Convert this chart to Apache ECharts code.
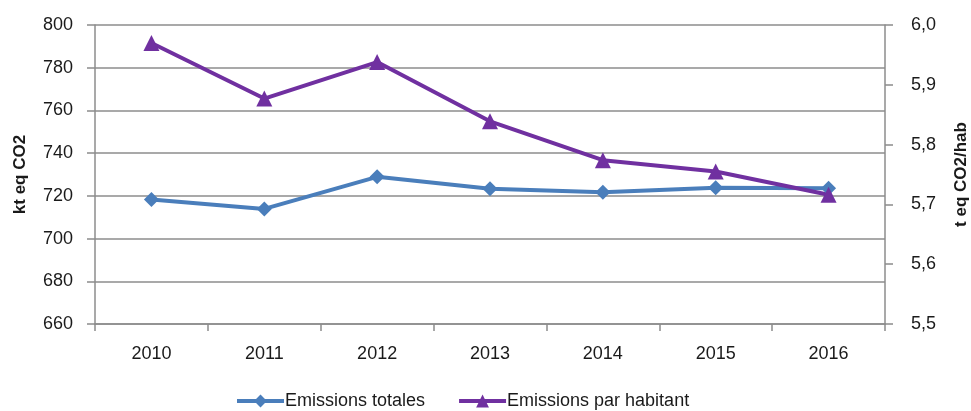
<!DOCTYPE html>
<html><head><meta charset="utf-8">
<script src="https://cdn.jsdelivr.net/npm/echarts@6/dist/echarts.min.js"></script>
<style>html,body{margin:0;padding:0;background:#fff}#c{width:971px;height:411px}</style>
</head><body><div id="c"></div>
<script>
const years = ['2010','2011','2012','2013','2014','2015','2016'];
const totales = [718.3, 713.9, 728.9, 723.3, 721.7, 723.8, 723.6];
const parHabitant = [5.970, 5.877, 5.938, 5.839, 5.774, 5.755, 5.716];
const leftName = 'kt eq CO2';
const rightName = 't eq CO2/hab';
const seriesNames = ['Emissions totales', 'Emissions par habitant'];

const font = 'Liberation Sans';
const txt = '#1a1a1a';
const grey = '#8c8c8c';
const chart = echarts.init(document.getElementById('c'));
chart.setOption({
  animation: false,
  textStyle: {fontFamily: font},
  grid: {left: 95, right: 86, top: 25, bottom: 87, containLabel: false, outerBoundsMode: 'none'},
  legend: {
    bottom: 1, padding: 0, left: 235, itemWidth: 47, itemHeight: 16, itemGap: 32,
    textStyle: {fontSize: 18, color: txt, fontFamily: font, padding: [0, 0, 0, -4]},
    lineStyle: {width: 4},
    data: seriesNames
  },
  xAxis: {
    type: 'category', data: years, boundaryGap: true,
    axisLine: {lineStyle: {color: grey, width: 1.5}},
    axisTick: {show: true, length: 7, lineStyle: {color: grey, width: 1.5}},
    axisLabel: {fontSize: 18, color: txt, margin: 21}
  },
  yAxis: [{
    type: 'value', min: 660, max: 800, interval: 20,
    name: leftName, nameLocation: 'middle', nameRotate: 90, nameGap: 66,
    nameTextStyle: {fontSize: 17, fontWeight: 'bold', color: txt},
    axisLine: {show: true, lineStyle: {color: grey, width: 1.5}},
    axisTick: {show: true, length: 8, lineStyle: {color: grey, width: 1.5}},
    axisLabel: {fontSize: 18, color: txt, margin: 22},
    splitLine: {lineStyle: {color: grey, width: 1.5}}
  }, {
    type: 'value', min: 5.5, max: 6.0, interval: 0.1, position: 'right',
    name: rightName, nameLocation: 'middle', nameRotate: 90, nameGap: 68,
    nameTextStyle: {fontSize: 17, fontWeight: 'bold', color: txt},
    axisLine: {show: true, lineStyle: {color: grey, width: 1.5}},
    axisTick: {show: true, length: 8, lineStyle: {color: grey, width: 1.5}},
    axisLabel: {fontSize: 18, color: txt, margin: 26,
      formatter: v => v.toFixed(1).replace('.', ',')},
    splitLine: {show: false}
  }],
  series: [{
    name: seriesNames[0], type: 'line', yAxisIndex: 0, data: totales,
    symbol: 'diamond', symbolSize: 15, showAllSymbol: true,
    lineStyle: {color: '#4a7ebb', width: 4},
    itemStyle: {color: '#4a7ebb'}
  }, {
    name: seriesNames[1], type: 'line', yAxisIndex: 1, data: parHabitant,
    symbol: 'triangle', symbolSize: 16, showAllSymbol: true,
    lineStyle: {color: '#7030a0', width: 4},
    itemStyle: {color: '#7030a0'}
  }]
});
</script></body></html>
